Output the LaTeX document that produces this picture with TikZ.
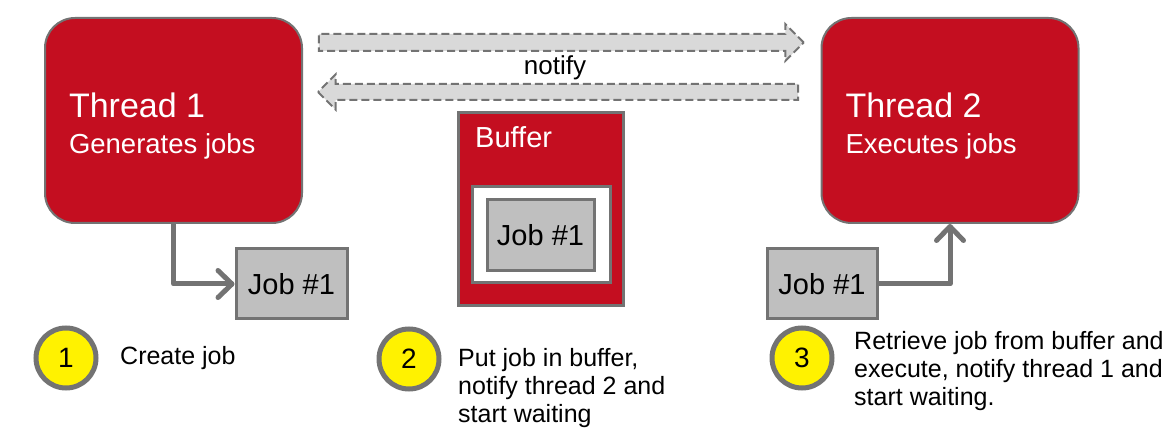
\documentclass[tikz,border=0pt]{standalone}
\usepackage{fontspec}
\setmainfont{Liberation Sans}
\usetikzlibrary{shapes,arrows,arrows.meta}
\definecolor{threadred}{RGB}{196,14,32}
\definecolor{edgegray}{RGB}{115,115,115}
\definecolor{jobgray}{RGB}{191,191,191}
\definecolor{notegray}{RGB}{217,217,217}
\tikzset{
	thread/.style   = {draw=edgegray, line width=2, fill=threadred, rounded corners=30,
		minimum width=257, minimum height=205, text width=209, align=flush left,
		text=white, inner sep=0, font=\fontsize{34}{36}\selectfont},
	job/.style      = {draw=edgegray, line width=3, fill=jobgray, inner sep=0,
		font=\fontsize{29}{32}\selectfont},
	notice/.style   = {single arrow, draw=edgegray, line width=2, fill=notegray,
		dash pattern=on 8 off 4, inner xsep=0, single arrow head indent=0},
	stepmark/.style = {circle, draw=edgegray, line width=5, fill=yellow,
		minimum size=60, inner sep=0, font=\fontsize{28}{30}\selectfont},
	steptext/.style = {align=flush left, inner sep=0, anchor=base west,
		font=\fontsize{25}{28}\selectfont},
	feed/.style     = {draw=edgegray, line width=5, line join=round,
		-{Straight Barb[length=14,width=27,line cap=round,line join=round]}}
}
\newcommand{\jobtxt}{Job \#1}
\newcommand{\subtxt}{\fontsize{27.5}{36}\selectfont}
\newcommand{\lift}{\rule{0pt}{35pt}}

\begin{document}
\begin{tikzpicture}[x=1pt, y=-1pt]
	\useasboundingbox (0,0) rectangle (1173,438);

	\draw
	node at (173.5,120.5) [thread] (t1) {\lift Thread 1\\{\subtxt Generates jobs}}
	node at (950,120.5) [thread] (t2) {\lift Thread 2\\{\subtxt Executes jobs}};

	\node at (557,42.5) [notice, minimum height=485, inner ysep=7.5,
		single arrow head extend=10] (go) {};
	\node at (562,92) [notice, shape border rotate=180, minimum height=480,
		inner ysep=7, single arrow head extend=9.5] (back) {};
	\node at (555,68) [font=\fontsize{26}{28}\selectfont] (nt) {notify};

	% buffer
	\node at (540.5,209.5) [draw=edgegray, line width=3, fill=threadred,
		minimum width=165, minimum height=193] (buf) {};
	\node at (475,148) [anchor=base west, inner sep=0, text=white,
		font=\fontsize{29}{30}\selectfont] (buflabel) {Buffer};
	\node at (541,235) [draw=edgegray, line width=3, fill=white,
		minimum width=138, minimum height=96] (slot) {};
	\node at (540.5,235.5) [job, minimum width=107, minimum height=71] (j2) {\jobtxt};

	\node at (291.5,284) [job, minimum width=111, minimum height=70] (j1) {\jobtxt};
	\node at (822,284) [job, minimum width=110, minimum height=70] (j3) {\jobtxt};

	\draw[feed] (t1.south) |- (j1.west);
	\draw[feed] (j3.east) -| (t2.south);

	% steps
	\draw
	node at (66,358) [stepmark] (s1) {1}
	node at (409,359) [stepmark] (s2) {2}
	node at (802,358) [stepmark] (s3) {3};
	\node at (120,365) [steptext] (d1) {Create job};
	\node at (458,422) [steptext] (d2) {Put job in buffer,\\notify thread 2 and\\start waiting};
	\node at (854,405) [steptext] (d3) {Retrieve job from buffer and\\execute, notify thread 1 and\\start waiting.};

\end{tikzpicture}
\end{document}
